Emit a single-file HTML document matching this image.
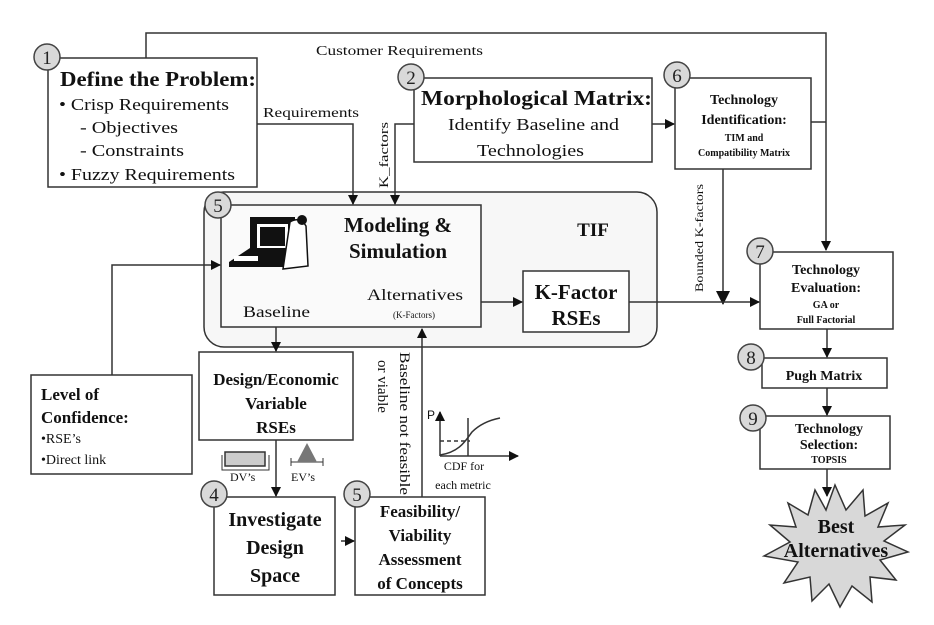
<!DOCTYPE html>
<html><head><meta charset="utf-8"><style>
html,body{margin:0;padding:0;background:#fff;}
svg{display:block;font-family:"Liberation Serif",serif;}
</style></head><body>
<svg width="934" height="625" viewBox="0 0 934 625" xmlns="http://www.w3.org/2000/svg">
<defs>
<marker id="a" markerWidth="10" markerHeight="10" refX="9" refY="5" orient="auto" markerUnits="userSpaceOnUse"><path d="M0,0 L10,5 L0,10 z" fill="#111"/></marker>
<marker id="b" markerWidth="14" markerHeight="14" refX="13" refY="7" orient="auto" markerUnits="userSpaceOnUse"><path d="M0,0 L14,7 L0,14 z" fill="#111"/></marker>
</defs>
<g fill="none" stroke="#333" stroke-width="1.5">
<polyline points="146,58 146,33 826,33 826,250" marker-end="url(#a)"/>
<rect x="204" y="192" width="453" height="155" rx="20" fill="#f7f7f7"/>
<rect x="48" y="58" width="209" height="129" fill="#fff"/>
<rect x="414" y="78" width="238" height="84" fill="#fff"/>
<rect x="675" y="78" width="136" height="91" fill="#fff"/>
<rect x="221" y="205" width="260" height="122" fill="#fafafa"/>
<rect x="523" y="271" width="106" height="61" fill="#fff"/>
<rect x="760" y="252" width="133" height="77" fill="#fff"/>
<rect x="762" y="358" width="125" height="30" fill="#fff"/>
<rect x="760" y="416" width="130" height="53" fill="#fff"/>
<rect x="31" y="375" width="161" height="99" fill="#fff"/>
<rect x="199" y="352" width="154" height="88" fill="#fff"/>
<rect x="214" y="497" width="121" height="98" fill="#fff"/>
<rect x="355" y="497" width="130" height="98" fill="#fff"/>
<polyline points="257,124 353,124 353,204" marker-end="url(#a)"/>
<polyline points="414,124 395,124 395,204" marker-end="url(#a)"/>
<line x1="652" y1="124" x2="674" y2="124" marker-end="url(#a)"/>
<polyline points="811,122 826,122"/>
<line x1="723" y1="169" x2="723" y2="304" marker-end="url(#b)"/>
<line x1="481" y1="302" x2="522" y2="302" marker-end="url(#a)"/>
<line x1="629" y1="302" x2="759" y2="302" marker-end="url(#a)"/>
<line x1="827" y1="329" x2="827" y2="357" marker-end="url(#a)"/>
<line x1="827" y1="388" x2="827" y2="415" marker-end="url(#a)"/>
<line x1="827" y1="469" x2="827" y2="496" marker-end="url(#a)"/>
<polyline points="112,375 112,265 220,265" marker-end="url(#a)"/>
<line x1="276" y1="327" x2="276" y2="351" marker-end="url(#a)"/>
<line x1="276" y1="440" x2="276" y2="496" marker-end="url(#a)"/>
<line x1="341" y1="541" x2="354" y2="541" marker-end="url(#a)"/>
<line x1="422" y1="497" x2="422" y2="329" marker-end="url(#a)"/>
<line x1="440" y1="456" x2="440" y2="412" marker-end="url(#a)"/>
<line x1="440" y1="456" x2="518" y2="456" marker-end="url(#a)"/>
<line x1="468" y1="418" x2="468" y2="456"/>
<path d="M440,455 C460,452 466,440 472,432 C480,424 490,420 500,418" />
<line x1="440" y1="441" x2="470" y2="441" stroke-dasharray="4,3"/>
<rect x="225" y="452" width="40" height="14" fill="#ccc"/>
<polyline points="222,455 222,470 269,470 269,455" stroke-width="1"/>
<polyline points="291,462 323,462" stroke-width="1"/>
<line x1="291" y1="458" x2="291" y2="466" stroke-width="1"/>
<line x1="323" y1="458" x2="323" y2="466" stroke-width="1"/>
</g>
<polygon points="307,443 297,462 317,462" fill="#777"/>
<polygon fill="#d8d8d8" stroke="#333" stroke-width="1.5" points="835,485 846,510 863,490 865,516 888,503 878,527 905,525 884,541 908,552 880,560 896,580 870,577 872,602 852,586 840,607 829,584 812,601 810,577 784,583 798,562 764,556 790,542 770,525 796,527 788,503 808,515 815,490 826,510"/>
<g fill="#d9d9d9" stroke="#444" stroke-width="1.5">
<circle cx="47" cy="57" r="13"/><circle cx="411" cy="77" r="13"/><circle cx="677" cy="75" r="13"/>
<circle cx="218" cy="205" r="13"/><circle cx="760" cy="251" r="13"/><circle cx="751" cy="357" r="13"/>
<circle cx="753" cy="418" r="13"/><circle cx="214" cy="494" r="13"/><circle cx="357" cy="494" r="13"/>
</g>
<g font-size="19" text-anchor="middle" fill="#222">
<text x="47" y="64">1</text><text x="411" y="84">2</text><text x="677" y="82">6</text>
<text x="218" y="212">5</text><text x="760" y="258">7</text><text x="751" y="364">8</text>
<text x="753" y="425">9</text><text x="214" y="501">4</text><text x="357" y="501">5</text>
</g>
<g>
<rect x="250" y="217" width="45" height="40" fill="#111"/>
<rect x="257" y="224" width="31" height="25" fill="#fff"/>
<rect x="260" y="227" width="25" height="19" fill="#111"/>
<polygon points="229,262 250,248 295,248 290,267 229,267" fill="#111"/>
<rect x="234" y="256" width="24" height="5" fill="#fff"/>
<path d="M290,222 q10,-6 16,4 l2,40 l-25,3 l3,-20 z" fill="#fff" stroke="#111" stroke-width="1.5"/>
<circle cx="302" cy="220" r="5" fill="#111"/>
</g>
<g fill="#111" lengthAdjust="spacingAndGlyphs">
<text x="316" y="55" font-size="14" textLength="167" lengthAdjust="spacingAndGlyphs">Customer Requirements</text>
<text x="60" y="86" font-size="21" font-weight="bold" textLength="196" lengthAdjust="spacingAndGlyphs">Define the Problem:</text>
<text x="59" y="110" font-size="17" textLength="170" lengthAdjust="spacingAndGlyphs">• Crisp Requirements</text>
<text x="80" y="133" font-size="17" textLength="98" lengthAdjust="spacingAndGlyphs">- Objectives</text>
<text x="80" y="156" font-size="17" textLength="104" lengthAdjust="spacingAndGlyphs">- Constraints</text>
<text x="59" y="180" font-size="17" textLength="176" lengthAdjust="spacingAndGlyphs">• Fuzzy Requirements</text>
<text x="263" y="117" font-size="14" textLength="96" lengthAdjust="spacingAndGlyphs">Requirements</text>
<text transform="translate(388,188) rotate(-90)" font-size="13" textLength="66" lengthAdjust="spacingAndGlyphs">K_factors</text>
<text x="421" y="105" font-size="21" font-weight="bold" textLength="231" lengthAdjust="spacingAndGlyphs">Morphological Matrix:</text>
<text x="448" y="130" font-size="17" textLength="171" lengthAdjust="spacingAndGlyphs">Identify Baseline and</text>
<text x="477" y="156" font-size="17" textLength="107" lengthAdjust="spacingAndGlyphs">Technologies</text>
<g text-anchor="middle" font-weight="bold">
<text x="744" y="104" font-size="14">Technology</text>
<text x="744" y="124" font-size="14">Identification:</text>
<text x="744" y="141" font-size="10">TIM and</text>
<text x="744" y="156" font-size="10">Compatibility Matrix</text>
<text x="398" y="232" font-size="21">Modeling &amp;</text>
<text x="398" y="258" font-size="21">Simulation</text>
<text x="593" y="236" font-size="19">TIF</text>
<text x="576" y="299" font-size="21">K-Factor</text>
<text x="576" y="325" font-size="21">RSEs</text>
<text x="826" y="274" font-size="14">Technology</text>
<text x="826" y="292" font-size="14">Evaluation:</text>
<text x="826" y="308" font-size="10">GA or</text>
<text x="826" y="323" font-size="10">Full Factorial</text>
<text x="824" y="380" font-size="14">Pugh Matrix</text>
<text x="829" y="433" font-size="14">Technology</text>
<text x="829" y="449" font-size="14">Selection:</text>
<text x="829" y="463" font-size="10">TOPSIS</text>
<text x="836" y="533" font-size="20">Best</text>
<text x="836" y="557" font-size="20">Alternatives</text>
<text x="276" y="385" font-size="17">Design/Economic</text>
<text x="276" y="409" font-size="17">Variable</text>
<text x="276" y="433" font-size="17">RSEs</text>
<text x="275" y="526" font-size="20">Investigate</text>
<text x="275" y="554" font-size="20">Design</text>
<text x="275" y="582" font-size="20">Space</text>
<text x="420" y="517" font-size="17">Feasibility/</text>
<text x="420" y="541" font-size="17">Viability</text>
<text x="420" y="565" font-size="17">Assessment</text>
<text x="420" y="589" font-size="17">of Concepts</text>
</g>
<text transform="translate(703,292) rotate(-90)" font-size="12" textLength="108" lengthAdjust="spacingAndGlyphs">Bounded K-factors</text>
<text x="367" y="300" font-size="16" textLength="96" lengthAdjust="spacingAndGlyphs">Alternatives</text>
<text x="393" y="318" font-size="9">(K-Factors)</text>
<text x="243" y="317" font-size="16" textLength="67" lengthAdjust="spacingAndGlyphs">Baseline</text>
<text x="41" y="400" font-size="17" font-weight="bold">Level of</text>
<text x="41" y="423" font-size="17" font-weight="bold">Confidence:</text>
<text x="41" y="443" font-size="14">•RSE’s</text>
<text x="41" y="464" font-size="14">•Direct link</text>
<text x="230" y="481" font-size="12">DV’s</text>
<text x="291" y="481" font-size="12">EV’s</text>
<text transform="translate(400,352) rotate(90)" font-size="15" textLength="143" lengthAdjust="spacingAndGlyphs">Baseline not feasible</text>
<text transform="translate(378,360) rotate(90)" font-size="15">or viable</text>
<text x="427" y="419" font-size="12" font-family="Liberation Sans,sans-serif">P</text>
<text x="464" y="470" font-size="12" text-anchor="middle">CDF for</text>
<text x="463" y="489" font-size="12" text-anchor="middle">each metric</text>
</g>
</svg>
</body></html>
